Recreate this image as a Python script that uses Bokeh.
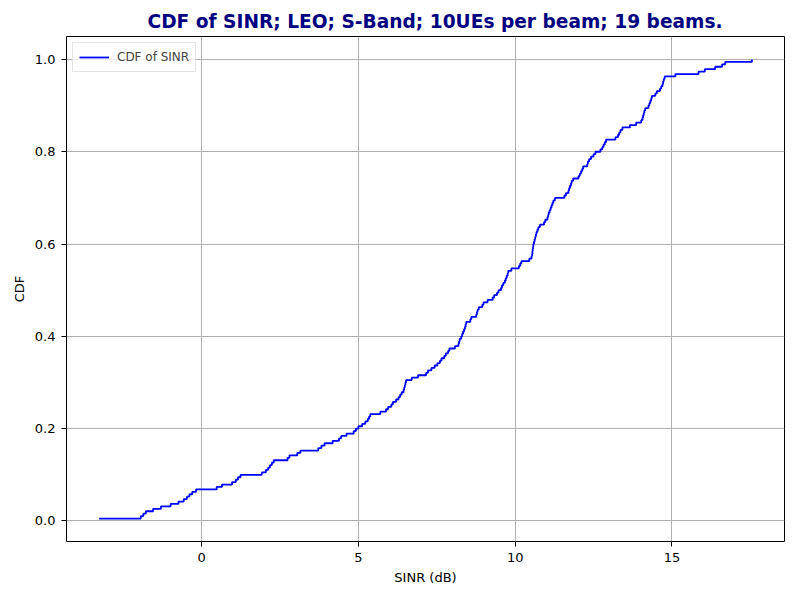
import numpy as np
from bokeh.plotting import figure
from bokeh.models import Range1d, FixedTicker, PrintfTickFormatter, Legend, LegendItem
from bokeh.embed import file_html
from bokeh.resources import INLINE

# Sorted SINR samples (dB) (190 UEs = 10 UEs x 19 beams)
sinr_db = [
    -3.27, -1.94, -1.86, -1.78, -1.55, -1.30, -0.99, -0.74, -0.57, -0.47,
    -0.39, -0.30, -0.18, 0.48, 0.65, 0.97, 1.09, 1.16, 1.24, 1.92,
    2.05, 2.12, 2.18, 2.24, 2.30, 2.74, 2.80, 3.05, 3.15, 3.72,
    3.82, 3.92, 4.18, 4.38, 4.45, 4.62, 4.85, 4.92, 5.00, 5.12,
    5.22, 5.30, 5.34, 5.38, 5.70, 5.88, 5.95, 6.05, 6.10, 6.20,
    6.28, 6.33, 6.38, 6.44, 6.46, 6.48, 6.50, 6.52, 6.70, 6.90,
    7.16, 7.22, 7.33, 7.43, 7.52, 7.60, 7.65, 7.74, 7.79, 7.86,
    7.90, 8.08, 8.19, 8.21, 8.23, 8.28, 8.31, 8.34, 8.37, 8.40,
    8.42, 8.44, 8.57, 8.60, 8.76, 8.78, 8.80, 8.84, 8.95, 8.99,
    9.12, 9.28, 9.33, 9.42, 9.47, 9.55, 9.58, 9.62, 9.67, 9.70,
    9.73, 9.76, 9.78, 9.88, 10.12, 10.16, 10.20, 10.45, 10.52, 10.54,
    10.55, 10.56, 10.57, 10.58, 10.60, 10.62, 10.64, 10.66, 10.68, 10.71,
    10.74, 10.79, 10.92, 10.96, 11.03, 11.05, 11.07, 11.10, 11.13, 11.16,
    11.19, 11.22, 11.27, 11.57, 11.62, 11.70, 11.72, 11.75, 11.78, 11.80,
    11.85, 12.02, 12.06, 12.10, 12.14, 12.17, 12.30, 12.32, 12.36, 12.42,
    12.50, 12.56, 12.72, 12.78, 12.82, 12.86, 12.90, 13.20, 13.28, 13.32,
    13.36, 13.42, 13.66, 13.86, 14.02, 14.06, 14.08, 14.10, 14.12, 14.15,
    14.25, 14.28, 14.31, 14.34, 14.36, 14.47, 14.52, 14.62, 14.66, 14.70,
    14.72, 14.74, 14.77, 15.11, 15.85, 16.05, 16.38, 16.60, 16.70, 17.55,
]

x_ticks = [0, 5, 10, 15]
y_ticks = [0.0, 0.2, 0.4, 0.6, 0.8, 1.0]
title_text = "CDF of SINR; LEO; S-Band; 10UEs per beam; 19 beams."
series_label = "CDF of SINR"

x = np.sort(np.array(sinr_db))
n = len(x)
cdf = np.arange(1, n + 1) / n

xspan = x.max() - x.min()
yspan = cdf.max() - cdf.min()

FONT = "DejaVu Sans"

p = figure(width=791, height=592, output_backend="svg", toolbar_location=None,
           x_range=Range1d(x.min() - 0.05 * xspan, x.max() + 0.05 * xspan),
           y_range=Range1d(cdf.min() - 0.05 * yspan, cdf.max() + 0.05 * yspan),
           min_border_left=66, min_border_right=7, min_border_top=36, min_border_bottom=51)

p.title.text = title_text
p.title.text_font = FONT
p.title.text_font_size = "18.6px"
p.title.text_font_style = "bold"
p.title.text_color = "#000080"
p.title.align = "left"
p.title.offset = 81

r = p.step(x, cdf, mode="after", line_color="#0000ff", line_width=1.8)

p.outline_line_color = "black"
p.outline_line_width = 1
p.background_fill_color = "white"
p.border_fill_color = "white"

for ax in (p.xaxis[0], p.yaxis[0]):
    ax.axis_line_color = None
    ax.major_tick_line_color = "black"
    ax.major_tick_out = 5
    ax.major_tick_in = 0
    ax.minor_tick_line_color = None
    ax.major_label_text_font = FONT
    ax.major_label_text_font_size = "13px"
    ax.major_label_text_color = "black"
    ax.axis_label_text_font = FONT
    ax.axis_label_text_font_size = "13px"
    ax.axis_label_text_font_style = "normal"
    ax.axis_label_text_color = "black"

p.xaxis[0].ticker = FixedTicker(ticks=x_ticks)
p.yaxis[0].ticker = FixedTicker(ticks=y_ticks)
p.yaxis[0].formatter = PrintfTickFormatter(format="%.1f")
p.xaxis[0].axis_label = "SINR (dB)"
p.yaxis[0].axis_label = "CDF"
p.xaxis[0].major_label_standoff = 6
p.yaxis[0].major_label_standoff = 6

p.xgrid.grid_line_color = "#b0b0b0"
p.ygrid.grid_line_color = "#b0b0b0"
p.xgrid.grid_line_width = 1
p.ygrid.grid_line_width = 1

legend = Legend(items=[LegendItem(label=series_label, renderers=[r])],
                location="top_left")
legend.label_text_font = FONT
legend.label_text_font_size = "12px"
legend.border_line_color = "#cccccc"
legend.border_line_width = 1
legend.background_fill_color = "white"
legend.background_fill_alpha = 0.8
legend.margin = 6
legend.padding = 6
legend.glyph_width = 30
legend.glyph_height = 16
legend.label_height = 16
legend.label_standoff = 8
legend.spacing = 0
p.add_layout(legend)

open("out.html", "w").write(file_html(p, INLINE))
